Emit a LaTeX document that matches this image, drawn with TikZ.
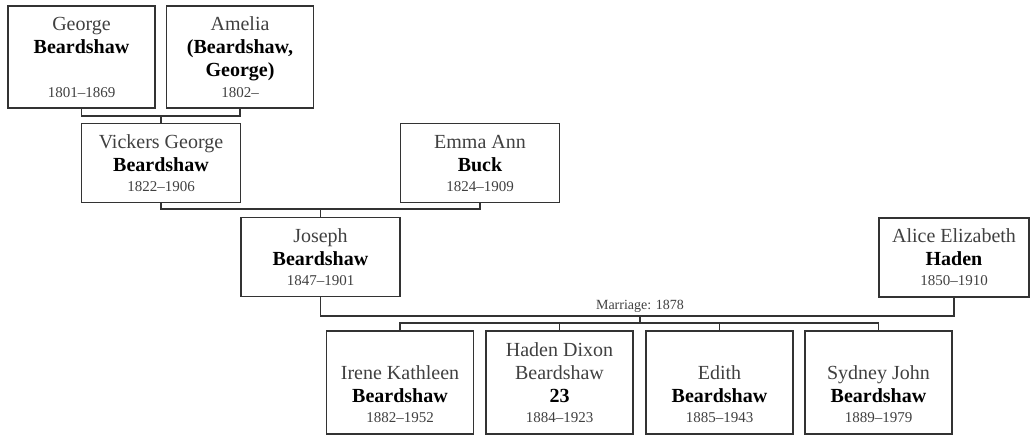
\documentclass[tikz,border=0pt]{standalone}
\usepackage{fontspec}
\setmainfont{Liberation Serif}
\usetikzlibrary{positioning}
\newcommand{\namefont}{\fontsize{20}{23}\selectfont}
\newcommand{\datefont}{\fontsize{15}{17}\selectfont}
\newcommand{\sname}[1]{\textcolor{black}{\bfseries #1}}

\begin{document}
\begin{tikzpicture}[
    x=1pt, y=-1pt,
    line width=1.3pt,
    every node/.style={inner sep=0pt},
    person/.style={draw=black!80, align=center, text=black!75, font=\namefont},
    elderbox/.style={person, minimum width=147pt, minimum height=102pt},
    parentbox/.style={person, minimum width=159pt, minimum height=79pt},
    kidbox/.style={person, minimum width=147pt, minimum height=103pt},
    link/.style={draw=black!80}
]
    \useasboundingbox (0,0) rectangle (1031,435);

    % Grandparents
    \node[elderbox] (george) at (81.5,57) {George\\\sname{Beardshaw}\\\mbox{}\\[-2pt]{\datefont 1801–1869}};
    \node[elderbox] (amelia) at (240,57) {Amelia\\\sname{(Beardshaw,}\\\sname{George)}\\[-2pt]{\datefont 1802–}};

    % Parents
    \node[parentbox] (vickers) at (161,163) {Vickers George\\\sname{Beardshaw}\\[-3pt]{\datefont 1822–1906}};
    \node[parentbox] (emma) at (480,163) {Emma Ann\\\sname{Buck}\\[-3pt]{\datefont 1824–1909}};
    \node[parentbox] (joseph) at (320.5,257) {Joseph\\\sname{Beardshaw}\\[-3pt]{\datefont 1847–1901}};
    \node[parentbox, minimum width=150pt] (alice) at (954,257.5) {Alice Elizabeth\\\sname{Haden}\\[-3pt]{\datefont 1850–1910}};

    % Children
    \node[kidbox] (irene) at (400,382.5) {\vphantom{Hd}\\Irene Kathleen\\\sname{Beardshaw}\\[-3pt]{\datefont 1882–1952}};
    \node[kidbox] (haden) at (559.5,382.5) {Haden Dixon\\Beardshaw\\\sname{23}\\[-3pt]{\datefont 1884–1923}};
    \node[kidbox] (edith) at (719.5,382.5) {\vphantom{Hd}\\Edith\\\sname{Beardshaw}\\[-3pt]{\datefont 1885–1943}};
    \node[kidbox] (sydney) at (878.5,382.5) {\vphantom{Hd}\\Sydney John\\\sname{Beardshaw}\\[-3pt]{\datefont 1889–1979}};

    % Links
    \coordinate (gp) at (161,116);
    \draw[link] (george.south) |- (gp) -| (amelia.south);
    \draw[link] (gp) -- (vickers.north);

    \coordinate (vp) at (320.5,209);
    \draw[link] (vickers.south) |- (vp) -| (emma.south);
    \draw[link] (vp) -- (joseph.north);

    \coordinate (wed) at (640,316);
    \draw[link] (joseph.south) |- (wed) -| (alice.south);
    \node[above=2.5pt of wed, text=black!75, font=\fontsize{14}{16}\selectfont] (marr) {Marriage: 1878};

    \coordinate (kids) at (640,323);
    \draw[link] (wed) -- (kids);
    \draw[link] (irene.north) |- (kids) -| (sydney.north);
    \draw[link] (haden.north) -- (haden.north |- kids);
    \draw[link] (edith.north) -- (edith.north |- kids);
\end{tikzpicture}
\end{document}
